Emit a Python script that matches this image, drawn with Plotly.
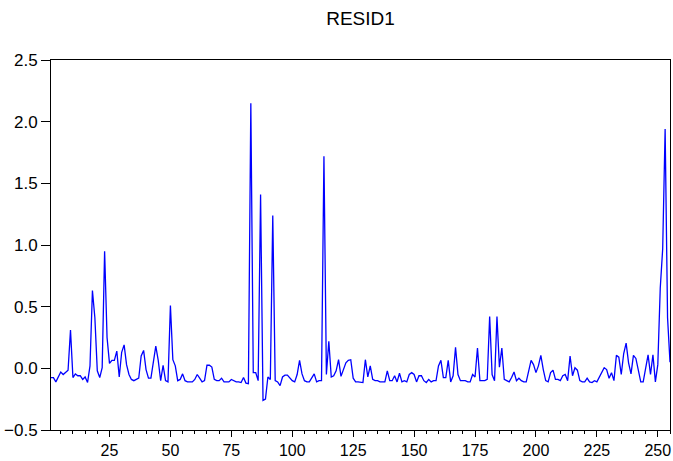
import plotly.graph_objects as go

title_text = "RESID1"

resid1 = [
    -0.075, -0.075, -0.11, -0.07, -0.03, -0.05, -0.03, -0.015, 0.31, -0.075,
    -0.045, -0.06, -0.06, -0.09, -0.07, -0.115, 0.02, 0.63, 0.41, -0.02,
    -0.075, 0.005, 0.95, 0.25, 0.04, 0.065, 0.065, 0.14, -0.07, 0.13,
    0.19, 0.03, -0.05, -0.09, -0.10, -0.09, -0.08, 0.10, 0.145, -0.01,
    -0.08, -0.08, 0.06, 0.18, 0.065, -0.10, 0.025, -0.10, -0.11, 0.51,
    0.07, 0.02, -0.10, -0.09, -0.045, -0.10, -0.11, -0.113, -0.11, -0.09,
    -0.05, -0.08, -0.11, -0.10, 0.025, 0.025, 0.01, -0.09, -0.10, -0.10,
    -0.08, -0.11, -0.11, -0.11, -0.09, -0.10, -0.11, -0.11, -0.115, -0.075,
    -0.12, -0.125, 2.15, -0.035, -0.035, -0.10, 1.41, -0.26, -0.25, -0.07,
    -0.09, 1.24, -0.10, -0.11, -0.14, -0.07, -0.055, -0.055, -0.075, -0.10,
    -0.11, -0.05, 0.065, -0.045, -0.10, -0.11, -0.11, -0.08, -0.045, -0.11,
    -0.10, -0.10, 1.72, -0.05, 0.22, -0.07, -0.06, -0.02, 0.07, -0.065,
    -0.01, 0.045, 0.065, 0.07, -0.08, -0.11, -0.11, -0.11, -0.115, 0.07,
    -0.07, 0.02, -0.09, -0.10, -0.10, -0.11, -0.11, -0.11, -0.02, -0.10,
    -0.10, -0.06, -0.11, -0.04, -0.11, -0.10, -0.11, -0.05, -0.035, -0.05,
    -0.11, -0.06, -0.06, -0.10, -0.115, -0.09, -0.11, -0.10, -0.10, 0.02,
    0.065, -0.075, -0.075, 0.065, -0.11, -0.06, 0.17, -0.05, -0.10, -0.10,
    -0.10, -0.11, -0.11, -0.05, -0.07, 0.165, -0.10, -0.10, -0.10, -0.09,
    0.42, -0.05, -0.10, 0.42, 0.01, 0.165, -0.09, -0.10, -0.11, -0.075,
    -0.03, -0.10, -0.08, -0.10, -0.11, -0.11, -0.01, 0.065, 0.03, -0.035,
    0.02, 0.105, -0.01, -0.10, -0.11, -0.035, -0.015, -0.09, -0.09, -0.10,
    -0.06, -0.05, -0.10, 0.10, -0.06, 0.005, -0.015, -0.10, -0.11, -0.11,
    -0.08, -0.11, -0.115, -0.10, -0.11, -0.07, -0.025, 0.005, -0.01, -0.08,
    -0.035, -0.10, 0.105, 0.09, -0.05, 0.12, 0.205, 0.045, -0.045, 0.105,
    0.08, -0.01, -0.11, -0.11, 0.005, 0.11, -0.05, 0.11, -0.11, 0.03,
    0.65, 0.97, 1.94, 0.41, 0.05,
]
obs = list(range(1, len(resid1) + 1))

x_tickvals = [25, 50, 75, 100, 125, 150, 175, 200, 225, 250]
y_tickvals = [-0.5, 0.0, 0.5, 1.0, 1.5, 2.0, 2.5]

fig = go.Figure()
fig.add_trace(go.Scatter(
    x=obs, y=resid1, mode="lines",
    line=dict(color="#0000FF", width=1.3),
    showlegend=False, hoverinfo="skip",
))

font_family = "Arial, Liberation Sans, sans-serif"

fig.update_layout(
    width=673, height=461,
    margin=dict(l=51, r=2, t=60, b=28),
    paper_bgcolor="white", plot_bgcolor="white",
    font=dict(family=font_family, size=16, color="black"),
    title=dict(text=title_text, x=0.5, xref="paper", xanchor="center",
               y=(461 - 18) / 461, yref="container", yanchor="middle",
               font=dict(size=19, family=font_family, color="black")),
)

fig.update_xaxes(
    range=[1, 255], tickmode="array", tickvals=x_tickvals,
    ticks="outside", ticklen=6, tickwidth=1, tickcolor="black",
    showline=True, linecolor="black", linewidth=1, mirror=True,
    showgrid=False, zeroline=False,
    minor=dict(tickmode="linear", tick0=0, dtick=5, ticks="outside",
               ticklen=3, tickwidth=1, tickcolor="black", showgrid=False),
    tickfont=dict(size=16),
)
fig.update_yaxes(
    range=[-0.5, 2.5], tickmode="array", tickvals=y_tickvals,
    tickformat=".1f",
    ticks="outside", ticklen=9, tickwidth=1, tickcolor="black",
    showline=True, linecolor="black", linewidth=1, mirror=True,
    showgrid=False, zeroline=False,
    tickfont=dict(size=17),
)

fig.write_html(
    "out.html",
    config={"displayModeBar": False},
    post_script="document.body.style.margin='0';document.body.style.overflow='hidden';",
)
